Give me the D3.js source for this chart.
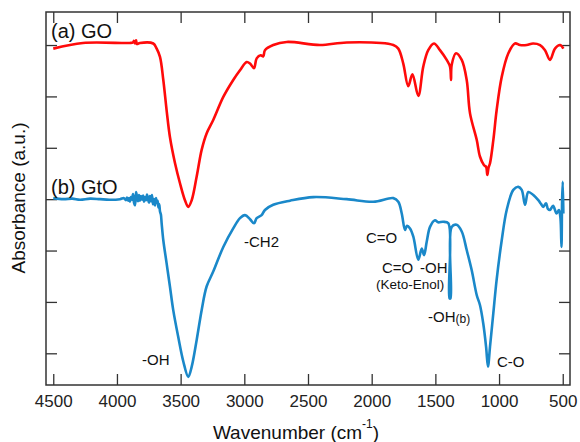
<!DOCTYPE html>
<html>
<head>
<meta charset="utf-8">
<script src="https://cdn.jsdelivr.net/npm/d3@7/dist/d3.min.js"></script>
<style>
  html, body { margin: 0; padding: 0; background: #fff; }
  svg { display: block; font-family: "Liberation Sans", Arial, sans-serif; }
</style>
</head>
<body>
<svg id="chart" width="580" height="442"></svg>
<script>
// FTIR spectra of graphene oxide (GO) and graphite oxide (GtO), offset vertically.
const xTickValues = [4500, 4000, 3500, 3000, 2500, 2000, 1500, 1000, 500];
const yTickValues = [0, 1, 2, 3, 4, 5, 6];

const goWavenumber = [4500, 4267, 3900, 3874, 3866, 3858, 3850, 3843, 3820, 3715, 3688, 3662, 3636, 3610, 3584, 3544, 3505, 3466, 3440, 3413, 3374, 3335, 3296, 3244, 3165, 3087, 3034, 2981, 2955, 2924, 2903, 2871, 2851, 2838, 2773, 2667, 2406, 2196, 1830, 1791, 1752, 1713, 1680, 1634, 1595, 1556, 1511, 1464, 1411, 1385, 1377, 1372, 1338, 1293, 1254, 1228, 1175, 1150, 1118, 1102, 1092, 1083, 1071, 1045, 1019, 979, 927, 875, 836, 783, 733, 678, 639, 600, 561, 521, 495];
const goAbsorbance = [5.93, 6.04, 6.04, 6.05, 6.08, 6.03, 6.09, 6.02, 6.04, 6.03, 5.93, 5.77, 5.32, 4.73, 4.21, 3.70, 3.31, 2.98, 2.85, 2.98, 3.44, 3.96, 4.28, 4.54, 4.99, 5.32, 5.51, 5.67, 5.64, 5.55, 5.74, 5.80, 5.78, 5.90, 6.00, 6.06, 6.00, 6.05, 6.00, 5.93, 5.64, 5.20, 5.43, 5.01, 5.58, 5.90, 6.03, 5.90, 5.71, 5.58, 5.32, 5.61, 5.84, 5.71, 5.32, 4.67, 4.15, 3.83, 3.66, 3.63, 3.47, 3.61, 3.70, 4.15, 4.73, 5.38, 5.84, 6.03, 6.00, 6.00, 6.03, 6.00, 5.90, 5.71, 5.93, 6.00, 5.93];

const gtoWavenumber = [4500, 4420, 4350, 4290, 4210, 4133, 4060, 3976, 3945, 3930, 3921, 3912, 3905, 3898, 3890, 3882, 3874, 3866, 3858, 3850, 3843, 3835, 3827, 3819, 3811, 3803, 3795, 3787, 3780, 3772, 3764, 3756, 3748, 3741, 3733, 3725, 3717, 3709, 3701, 3693, 3688, 3681, 3674, 3668, 3662, 3655, 3649, 3636, 3610, 3584, 3558, 3519, 3479, 3440, 3413, 3374, 3335, 3296, 3244, 3165, 3087, 3034, 2995, 2955, 2924, 2903, 2864, 2838, 2773, 2641, 2458, 2196, 1987, 1830, 1791, 1764, 1738, 1723, 1699, 1673, 1634, 1607, 1589, 1568, 1542, 1503, 1479, 1438, 1398, 1389, 1381, 1372, 1333, 1293, 1254, 1215, 1175, 1150, 1124, 1102, 1087, 1071, 1045, 1019, 979, 940, 888, 849, 822, 796, 770, 731, 692, 671, 653, 631, 616, 600, 576, 548, 530, 518, 510, 505, 500, 495];
const gtoAbsorbance = [3.02, 3.00, 3.01, 2.99, 3.01, 3.00, 2.99, 3.00, 3.02, 2.98, 3.03, 2.97, 3.02, 2.95, 3.04, 2.99, 3.10, 2.93, 2.88, 3.14, 3.05, 2.96, 3.08, 2.97, 3.06, 2.99, 3.07, 2.95, 3.04, 2.98, 3.09, 3.00, 2.93, 3.06, 2.96, 3.08, 2.90, 3.00, 2.88, 3.02, 2.93, 2.97, 2.84, 2.90, 2.76, 2.70, 2.53, 2.20, 1.75, 1.30, 0.84, 0.32, -0.16, -0.46, -0.26, 0.26, 0.84, 1.30, 1.59, 2.07, 2.43, 2.63, 2.69, 2.61, 2.53, 2.63, 2.69, 2.79, 2.89, 2.97, 3.04, 3.00, 2.95, 3.02, 2.95, 2.72, 2.40, 2.48, 2.43, 2.27, 1.82, 2.04, 1.91, 2.17, 2.46, 2.59, 2.55, 2.56, 2.53, 1.07, 1.07, 2.46, 2.50, 2.37, 2.01, 1.62, 1.13, 0.94, 0.58, 0.13, -0.26, 0.13, 0.78, 1.43, 2.20, 2.79, 3.18, 3.24, 3.18, 2.89, 3.14, 3.08, 2.98, 2.91, 2.85, 2.92, 2.81, 2.79, 2.87, 2.72, 2.79, 2.63, 2.07, 2.98, 3.34, 2.72];

const seriesLabels = ["(a) GO", "(b) GtO"];
const peakLabels = ["-OH", "-CH2", "C=O", "C=O", "-OH", "(Keto-Enol)", "-OH", "C-O"];
const xTitle = "Wavenumber (cm";
const yTitle = "Absorbance (a.u.)";

const svg = d3.select("#chart");
const frame = { left: 46, right: 570, top: 12, bottom: 385 };

const x = d3.scaleLinear().domain([4557, 443]).range([frame.left, frame.right]);
const y = d3.scaleLinear().domain([-0.617, 6.643]).range([frame.bottom, frame.top]);

const axisColor = "#333";
const tickLen = 11;

function styleAxis(g) {
  g.select(".domain").remove();
  g.selectAll(".tick line").attr("stroke", axisColor).attr("stroke-width", 1.3);
}

svg.append("g")
  .attr("transform", `translate(0,${frame.bottom})`)
  .call(d3.axisBottom(x).tickValues(xTickValues).tickSizeInner(-tickLen).tickSizeOuter(0).tickPadding(10).tickFormat(d3.format("d")))
  .call(styleAxis)
  .call(g => g.selectAll("text").attr("font-size", 17).attr("fill", "#222")
    .attr("font-family", "'Liberation Sans', Arial, sans-serif"));

svg.append("g")
  .attr("transform", `translate(0,${frame.top})`)
  .call(d3.axisTop(x).tickValues(xTickValues).tickSizeInner(-tickLen).tickSizeOuter(0).tickFormat(""))
  .call(styleAxis);

svg.append("g")
  .attr("transform", `translate(${frame.left},0)`)
  .call(d3.axisLeft(y).tickValues(yTickValues).tickSizeInner(-tickLen).tickSizeOuter(0).tickFormat(""))
  .call(styleAxis);

svg.append("g")
  .attr("transform", `translate(${frame.right},0)`)
  .call(d3.axisRight(y).tickValues(yTickValues).tickSizeInner(-tickLen).tickSizeOuter(0).tickFormat(""))
  .call(styleAxis);

// plot frame
svg.append("rect")
  .attr("x", frame.left).attr("y", frame.top)
  .attr("width", frame.right - frame.left).attr("height", frame.bottom - frame.top)
  .attr("fill", "none").attr("stroke", axisColor).attr("stroke-width", 1.5);

const line = d3.line()
  .x(d => x(d[0]))
  .y(d => y(d[1]))
  .curve(d3.curveCatmullRom.alpha(0.5));

svg.append("path")
  .datum(d3.zip(goWavenumber, goAbsorbance))
  .attr("d", line)
  .attr("fill", "none").attr("stroke", "#ff0a0a").attr("stroke-width", 2.6)
  .attr("stroke-linejoin", "round");

svg.append("path")
  .datum(d3.zip(gtoWavenumber, gtoAbsorbance))
  .attr("d", line)
  .attr("fill", "none").attr("stroke", "#1a88c9").attr("stroke-width", 2.6)
  .attr("stroke-linejoin", "round");

// series names
const nameG = svg.append("g").attr("font-size", 20).attr("fill", "#111");
nameG.append("text").attr("x", 51).attr("y", 38).text(seriesLabels[0]);
nameG.append("text").attr("x", 51).attr("y", 194).text(seriesLabels[1]);

// band assignments
const ann = svg.append("g").attr("fill", "#111").attr("font-size", 15);
ann.append("text").attr("x", 142).attr("y", 365).text(peakLabels[0]);
ann.append("text").attr("x", 244).attr("y", 247).text(peakLabels[1]);
ann.append("text").attr("x", 366).attr("y", 243).text(peakLabels[2]);
ann.append("text").attr("x", 382).attr("y", 273).text(peakLabels[3]);
ann.append("text").attr("x", 420).attr("y", 273).text(peakLabels[4]);
ann.append("text").attr("x", 376).attr("y", 289).attr("font-size", 13.5).text(peakLabels[5]);
const ohb = ann.append("text").attr("x", 428).attr("y", 322);
ohb.append("tspan").text(peakLabels[6]);
ohb.append("tspan").attr("font-size", 12).attr("dy", 1).text("(b)");
ann.append("text").attr("x", 497).attr("y", 367).text(peakLabels[7]);

// axis titles
const xt = svg.append("text")
  .attr("x", 296).attr("y", 439)
  .attr("text-anchor", "middle")
  .attr("font-size", 19).attr("fill", "#111");
xt.append("tspan").text(xTitle);
xt.append("tspan").attr("font-size", 12).attr("dy", -11).text("-1");
xt.append("tspan").attr("dy", 11).text(")");

svg.append("text")
  .attr("transform", "translate(25,198) rotate(-90)")
  .attr("text-anchor", "middle")
  .attr("font-size", 19).attr("fill", "#111")
  .text(yTitle);
</script>
</body>
</html>
